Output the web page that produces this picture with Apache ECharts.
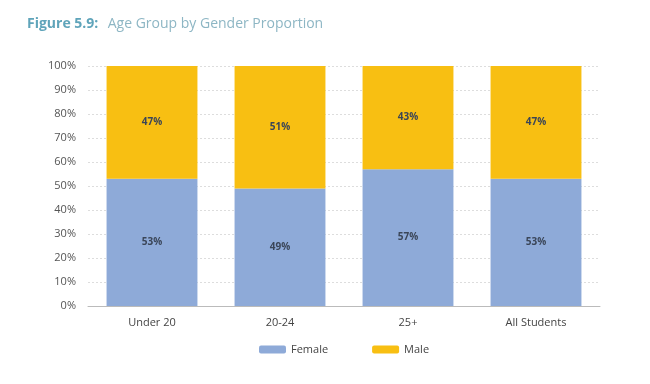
<!DOCTYPE html>
<html><head><meta charset="utf-8">
<script src="https://cdn.jsdelivr.net/npm/echarts@6/dist/echarts.min.js"></script>
<style>html,body{margin:0;padding:0;background:#fff}#c{width:650px;height:384px}</style>
</head><body><div id="c"></div>
<script>
const categories = ["Under 20", "20-24", "25+", "All Students"];
const female = [53, 49, 57, 53];
const male = [47, 51, 43, 47];
const yTicks = [0,10,20,30,40,50,60,70,80,90,100];

const chart = echarts.init(document.getElementById('c'));
const labelStyle = {show:true, position:'inside', formatter: p => p.value + '%', color:'#3b4658', fontSize:10, fontWeight:'bold', fontFamily:'Open Sans'};
chart.setOption({
  animation:false,
  textStyle:{fontFamily:'Open Sans'},
  title:{
    text:'{b|Figure 5.9:}  {n|Age Group by Gender Proportion}',
    left:22, top:10,
    textStyle:{rich:{
      b:{fontSize:14, fontWeight:'bold', color:'#5fa4ba', fontFamily:'Open Sans'},
      n:{fontSize:14, fontWeight:'normal', color:'#8db6c4', fontFamily:'Open Sans'}
    }}
  },
  legend:{
    bottom:24, left:254, itemWidth:27, itemHeight:8, itemGap:44,
    textStyle:{fontSize:11, color:'#444', fontFamily:'Open Sans'},
    data:['Female','Male']
  },
  grid:{left:88, right:50, top:66, bottom:78},
  xAxis:{
    type:'category', data:categories,
    axisLine:{lineStyle:{color:'#bbb', width:1}},
    axisTick:{show:false},
    axisLabel:{color:'#444', fontSize:11, margin:11}
  },
  yAxis:{
    type:'value', min:0, max:100, interval:10,
    axisLabel:{formatter: v => yTicks.includes(v) ? v + '%' : '', color:'#555', fontSize:11, margin:12},
    axisLine:{show:false}, axisTick:{show:false},
    splitLine:{lineStyle:{color:'#ddd', type:[2,2]}}
  },
  series:[
    {name:'Female', type:'bar', stack:'s', data:female, barWidth:'71%', itemStyle:{color:'#8eaad8'}, label:labelStyle},
    {name:'Male', type:'bar', stack:'s', data:male, barWidth:'71%', itemStyle:{color:'#f8bf12'}, label:labelStyle}
  ]
});
</script></body></html>
